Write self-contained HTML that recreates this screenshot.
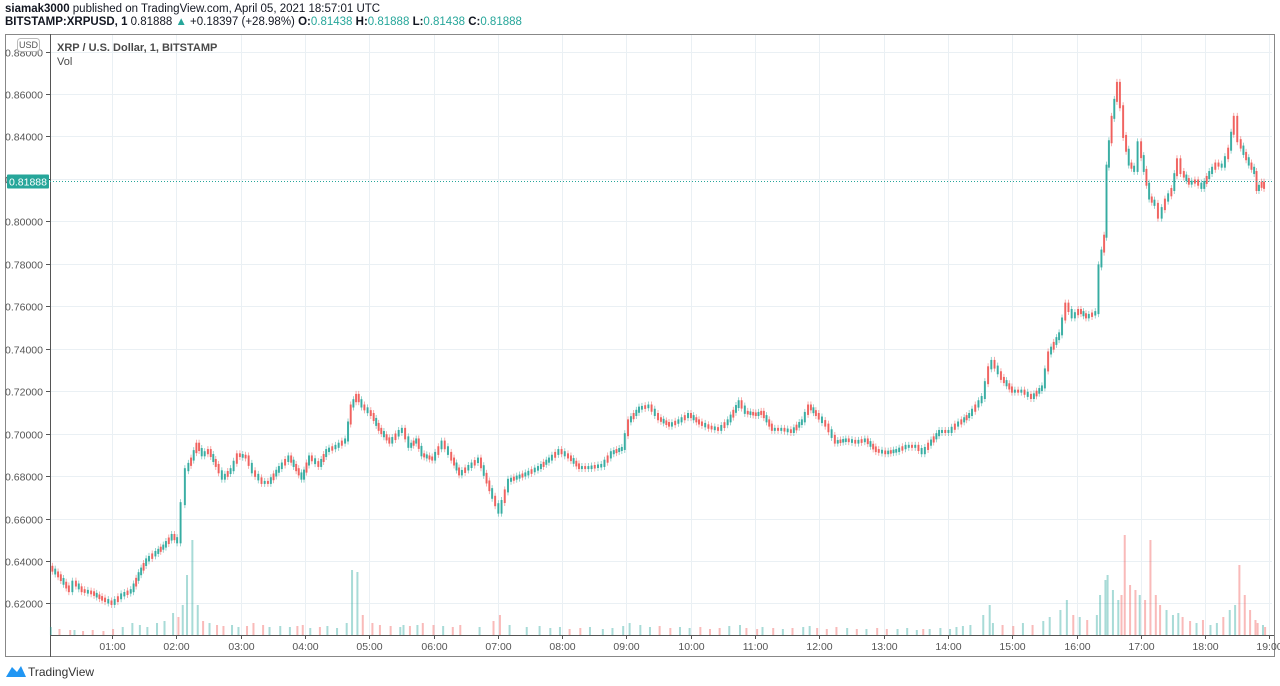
<!DOCTYPE html>
<html><head><meta charset="utf-8">
<style>
body{margin:0;width:1280px;height:686px;background:#fff;font-family:"Liberation Sans",sans-serif;overflow:hidden;position:relative}
.hdr{position:absolute;left:5px;font-size:11.5px;color:#131722;white-space:nowrap}
.t{color:#26a69a}
</style></head><body>
<div class="hdr" style="top:3px"><b>siamak3000</b> published on TradingView.com, April 05, 2021 18:57:01 UTC</div>
<div class="hdr" style="top:16px"><b>BITSTAMP:XRPUSD, 1</b> 0.81888 <span class="t">▲</span> +0.18397 (+28.98%) <b>O:</b><span class="t">0.81438</span> <b>H:</b><span class="t">0.81888</span> <b>L:</b><span class="t">0.81438</span> <b>C:</b><span class="t">0.81888</span></div>
<svg id="c" width="1280" height="686" style="position:absolute;left:0;top:0"></svg>
<script>
const times=[3,11,21,25,33,42,52,61,70,79,86,93,102,109,117,122,126,130,135,140,145,151,158,164,172,178,186,192,201,207,217,226,233,238,245,254,261,270,279,284,289,294,303,310,320,329,332,338,345,350,360,369,378,385,403,416,422,431,447,459,469,478,487,497,506,518,527,537,543,553,562,571,581,590,599,609,618,627,636,646,652,662,667,677,686,695,705,711,718,727,736,746,755,764,774,783,793,802,811,817,823,833,842,848,854,861,873,879,882,891,901,910,919,929,935,945,951,957,963,970,979,982,987,989,994,999,1002,1005,1010,1015,1019,1024,1029,1034,1038,1044,1050,1055,1059,1066,1072,1078,1085,1091,1097,1103,1108,1112,1117,1122,1127,1129,1134,1136];
const closes=[0.637,0.633,0.626,0.630,0.626,0.625,0.622,0.620,0.624,0.626,0.634,0.6405,0.644,0.647,0.652,0.649,0.667,0.683,0.688,0.695,0.690,0.692,0.685,0.679,0.683,0.690,0.689,0.682,0.677,0.677,0.684,0.689,0.683,0.679,0.689,0.685,0.692,0.694,0.697,0.713,0.718,0.713,0.709,0.702,0.696,0.701,0.702,0.694,0.697,0.690,0.688,0.696,0.688,0.681,0.688,0.670,0.663,0.678,0.681,0.684,0.688,0.692,0.689,0.684,0.684,0.685,0.691,0.693,0.706,0.712,0.713,0.707,0.704,0.706,0.709,0.705,0.703,0.702,0.706,0.715,0.710,0.709,0.710,0.702,0.702,0.701,0.706,0.713,0.709,0.704,0.696,0.697,0.696,0.697,0.692,0.691,0.692,0.694,0.694,0.691,0.695,0.701,0.701,0.704,0.706,0.709,0.717,0.731,0.734,0.726,0.720,0.720,0.717,0.722,0.738,0.747,0.761,0.755,0.758,0.755,0.757,0.779,0.793,0.826,0.849,0.865,0.854,0.840,0.827,0.824,0.837,0.824,0.811,0.808,0.802,0.810,0.815,0.829,0.823,0.818,0.819,0.816,0.823,0.827,0.826,0.834,0.849,0.838,0.832,0.827,0.823,0.815,0.818,0.816];
const volumes=[8,6,5,5,4,5,4,6,8,12,10,8,12,14,22,18,30,60,95,30,14,12,10,9,10,8,9,12,10,8,9,8,9,10,7,8,9,7,12,65,63,20,12,10,9,8,10,9,10,12,10,9,8,10,8,14,20,10,8,9,7,8,6,7,8,6,7,9,12,10,8,9,7,8,7,8,6,7,9,10,7,6,8,7,6,7,8,9,7,6,8,7,6,6,7,6,6,7,5,6,6,7,6,8,9,10,20,30,12,10,9,12,10,14,18,25,35,20,18,15,20,40,55,60,45,35,40,100,50,45,40,35,95,40,30,25,20,22,18,14,12,15,10,12,18,25,30,70,40,25,15,12,10,8];
const yTicks=[0.88,0.86,0.84,0.82,0.80,0.78,0.76,0.74,0.72,0.70,0.68,0.66,0.64,0.62];
const xTickLabels=["01:00","02:00","03:00","04:00","05:00","06:00","07:00","08:00","09:00","10:00","11:00","12:00","13:00","14:00","15:00","16:00","17:00","18:00","19:00"];
const lastPrice=0.81888;

const NS="http://www.w3.org/2000/svg";
const svg=document.getElementById('c');
const L=50,R=1272,T=34,B=635;
const y=p=>94+(0.86-p)/0.02*42.45;
const x=m=>112+(m-60)*64.3/60;
function mk(tag,a,parent){const e=document.createElementNS(NS,tag);for(const k in a)e.setAttribute(k,a[k]);(parent||svg).appendChild(e);return e;}
const frame=mk('rect',{x:5.5,y:34.5,width:1269,height:622,fill:'none',stroke:'#888'});


mk('line',{x1:L+.5,y1:T,x2:L+.5,y2:657,stroke:'#555'});
mk('line',{x1:L,y1:B+.5,x2:1274,y2:B+.5,stroke:'#555'});
yTicks.forEach(v=>{
  const yy=Math.round(y(v))+.5;
  mk('line',{x1:L+1,y1:yy,x2:R,y2:yy,stroke:'#eaf0f4'});
  mk('line',{x1:L-4,y1:yy,x2:L,y2:yy,stroke:'#555'});
  const t=mk('text',{x:L-7,y:yy+4,'text-anchor':'end','font-size':'10.5',fill:'#555'});
  t.textContent=v.toFixed(5);
  
  
});
xTickLabels.forEach((s,i)=>{
  const xx=Math.round(x(60*(i+1)))+.5;
  mk('line',{x1:xx,y1:T+1,x2:xx,y2:B,stroke:'#eaf0f4'});
  mk('line',{x1:xx,y1:B,x2:xx,y2:B+4,stroke:'#555'});
  const t=mk('text',{x:xx,y:B+15,'text-anchor':'middle','font-size':'10.5',fill:'#555'});
  t.textContent=s;
  
  
});
const vg=mk('g',{});


for(let i=0;i<times.length;i++){
  const up=i==0||closes[i]>=closes[i-1];
  const h=volumes[i];
  const b=mk('rect',{x:x(times[i])-1,y:B-h,width:2,height:h,fill:up?'#26a69a':'#ef5350',opacity:0.4},vg);
  
  
}
const cg=mk('g',{});


for(let i=1;i<times.length;i++){
  const o=closes[i-1],c=closes[i],up=c>=o;
  const x0=x(times[i-1]),x1=x(times[i]);
  const col=up?'#26a69a':'#ef5350';
  const gap=x1-x0;
  const n=Math.max(1,Math.round(gap/3));
  for(let k=0;k<n;k++){
    const xc=x0+(k+0.5)*gap/n;
    const f0=k/n,f1=(k+1)/n;
    const a=y(o)+(y(c)-y(o))*f0, b2=y(o)+(y(c)-y(o))*f1;
    const top=Math.min(a,b2)-1.5, bh=Math.max(3,Math.abs(b2-a)+3);
    const kc=(k%3==1)?(up?'#ef5350':'#26a69a'):col;
    const r=mk('rect',{x:xc-1,y:top,width:2,height:bh,fill:kc,opacity:0.85},cg);
    
    
    mk('line',{x1:xc,y1:top-3,x2:xc,y2:top+bh+3,stroke:kc,'stroke-width':0.8,opacity:0.6},cg);
  }
}
const ly=Math.round(y(lastPrice))+.5;
const pl=mk('line',{x1:L,y1:ly,x2:R,y2:ly,stroke:'#26a69a','stroke-dasharray':'1,2'});


const pb=mk('rect',{x:7,y:ly-7,width:42,height:14,fill:'#26a69a',rx:1});


const pt=mk('text',{x:28,y:ly+4,'text-anchor':'middle','font-size':'10.5',fill:'#fff'});pt.textContent=lastPrice.toFixed(5);
const ub=mk('rect',{x:17.5,y:38.5,width:22,height:13,rx:3,fill:'#fff',stroke:'#bbb'});


const ut=mk('text',{x:28.5,y:48,'text-anchor':'middle','font-size':'9',fill:'#555'});ut.textContent='USD';
const tl=mk('text',{x:57,y:51,'font-size':'11',fill:'#4a4a4a','font-weight':'bold'});tl.textContent='XRP / U.S. Dollar, 1, BITSTAMP';


const vl=mk('text',{x:57,y:65,'font-size':'11',fill:'#4a4a4a'});vl.textContent='Vol';


const lg=mk('path',{d:'M6 677 L12 667 L17 672 L21 666 L26 677 Z',fill:'#2196f3'});


const lt=mk('text',{x:28,y:676,'font-size':'12',fill:'#333'});lt.textContent='TradingView';


</script>
</body></html>
